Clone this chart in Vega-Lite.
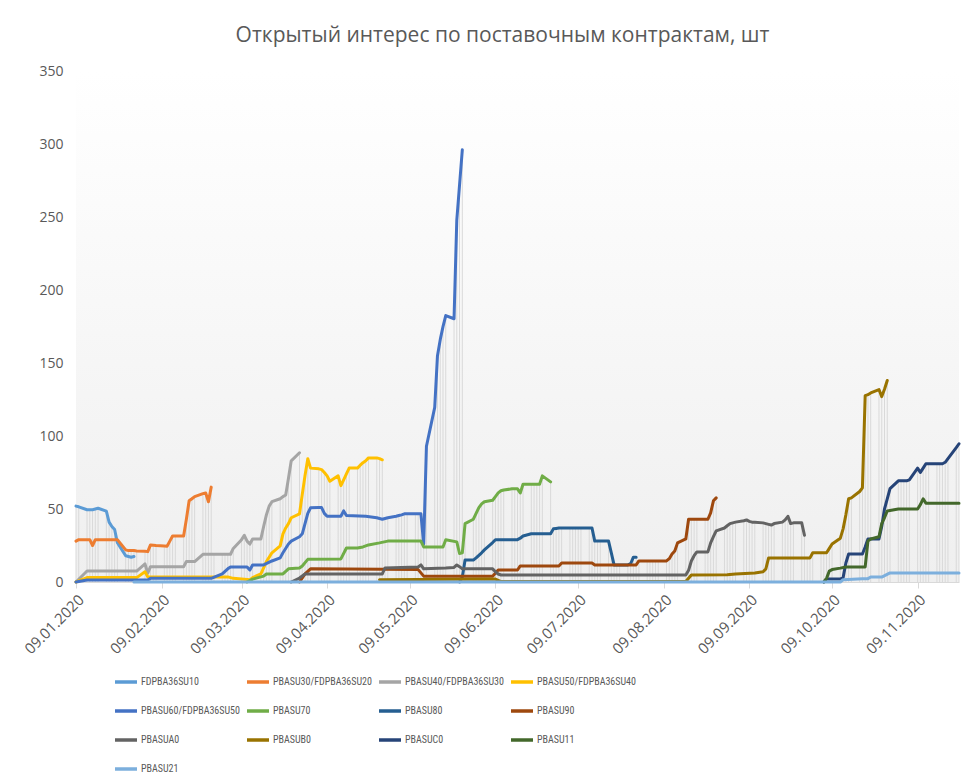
{
  "$schema": "https://vega.github.io/schema/vega-lite/v6.json",
  "width": 883,
  "height": 511,
  "autosize": {"type": "none"},
  "padding": {"left": 76, "top": 71, "right": 21, "bottom": 200},
  "background": "white",
  "config": {"view": {"stroke": null}, "font": "Open Sans"},
  "title": {"text": "Открытый интерес по поставочным контрактам, шт", "fontSize": 21, "fontWeight": "normal", "color": "#595959", "font": "Open Sans", "anchor": "middle", "dx": -15, "offset": 18},
  "datasets": {
    "oi": [
      {"s":"FDPBA36SU10","d":"2020-01-09","v":52},{"s":"FDPBA36SU10","d":"2020-01-10","v":51.5},{"s":"FDPBA36SU10","d":"2020-01-13","v":49.5},{"s":"FDPBA36SU10","d":"2020-01-14","v":49.5},{"s":"FDPBA36SU10","d":"2020-01-15","v":49.5},{"s":"FDPBA36SU10","d":"2020-01-16","v":50},{"s":"FDPBA36SU10","d":"2020-01-17","v":50.5},{"s":"FDPBA36SU10","d":"2020-01-20","v":48.5},{"s":"FDPBA36SU10","d":"2020-01-21","v":41},{"s":"FDPBA36SU10","d":"2020-01-22","v":38},{"s":"FDPBA36SU10","d":"2020-01-23","v":36},{"s":"FDPBA36SU10","d":"2020-01-24","v":27},{"s":"FDPBA36SU10","d":"2020-01-27","v":18},{"s":"FDPBA36SU10","d":"2020-01-28","v":17.5},{"s":"FDPBA36SU10","d":"2020-01-29","v":17},{"s":"FDPBA36SU10","d":"2020-01-30","v":17.5},

      {"s":"PBASU30/FDPBA36SU20","d":"2020-01-09","v":28},{"s":"PBASU30/FDPBA36SU20","d":"2020-01-10","v":29},{"s":"PBASU30/FDPBA36SU20","d":"2020-01-13","v":29},{"s":"PBASU30/FDPBA36SU20","d":"2020-01-14","v":29},{"s":"PBASU30/FDPBA36SU20","d":"2020-01-15","v":25},{"s":"PBASU30/FDPBA36SU20","d":"2020-01-16","v":29},{"s":"PBASU30/FDPBA36SU20","d":"2020-01-17","v":29},{"s":"PBASU30/FDPBA36SU20","d":"2020-01-20","v":29},{"s":"PBASU30/FDPBA36SU20","d":"2020-01-21","v":29},{"s":"PBASU30/FDPBA36SU20","d":"2020-01-22","v":29},{"s":"PBASU30/FDPBA36SU20","d":"2020-01-23","v":29},{"s":"PBASU30/FDPBA36SU20","d":"2020-01-24","v":29},{"s":"PBASU30/FDPBA36SU20","d":"2020-01-27","v":22},{"s":"PBASU30/FDPBA36SU20","d":"2020-01-28","v":21.5},{"s":"PBASU30/FDPBA36SU20","d":"2020-01-29","v":21.5},{"s":"PBASU30/FDPBA36SU20","d":"2020-01-30","v":21.5},{"s":"PBASU30/FDPBA36SU20","d":"2020-01-31","v":21.3},{"s":"PBASU30/FDPBA36SU20","d":"2020-02-03","v":21},{"s":"PBASU30/FDPBA36SU20","d":"2020-02-04","v":20.8},{"s":"PBASU30/FDPBA36SU20","d":"2020-02-05","v":25.4},{"s":"PBASU30/FDPBA36SU20","d":"2020-02-06","v":25.2},{"s":"PBASU30/FDPBA36SU20","d":"2020-02-07","v":25},{"s":"PBASU30/FDPBA36SU20","d":"2020-02-10","v":24.7},{"s":"PBASU30/FDPBA36SU20","d":"2020-02-11","v":24.5},{"s":"PBASU30/FDPBA36SU20","d":"2020-02-12","v":28},{"s":"PBASU30/FDPBA36SU20","d":"2020-02-13","v":31.5},{"s":"PBASU30/FDPBA36SU20","d":"2020-02-14","v":31.5},{"s":"PBASU30/FDPBA36SU20","d":"2020-02-17","v":31.5},{"s":"PBASU30/FDPBA36SU20","d":"2020-02-18","v":43},{"s":"PBASU30/FDPBA36SU20","d":"2020-02-19","v":55.6},{"s":"PBASU30/FDPBA36SU20","d":"2020-02-20","v":57},{"s":"PBASU30/FDPBA36SU20","d":"2020-02-21","v":58.5},{"s":"PBASU30/FDPBA36SU20","d":"2020-02-24","v":60.5},{"s":"PBASU30/FDPBA36SU20","d":"2020-02-25","v":61},{"s":"PBASU30/FDPBA36SU20","d":"2020-02-26","v":55},{"s":"PBASU30/FDPBA36SU20","d":"2020-02-27","v":65},

      {"s":"PBASU40/FDPBA36SU30","d":"2020-01-09","v":0},{"s":"PBASU40/FDPBA36SU30","d":"2020-01-13","v":7.5},{"s":"PBASU40/FDPBA36SU30","d":"2020-01-31","v":7.5},{"s":"PBASU40/FDPBA36SU30","d":"2020-02-03","v":12.4},{"s":"PBASU40/FDPBA36SU30","d":"2020-02-04","v":6},{"s":"PBASU40/FDPBA36SU30","d":"2020-02-05","v":10.5},{"s":"PBASU40/FDPBA36SU30","d":"2020-02-17","v":10.5},{"s":"PBASU40/FDPBA36SU30","d":"2020-02-18","v":14},{"s":"PBASU40/FDPBA36SU30","d":"2020-02-21","v":14},{"s":"PBASU40/FDPBA36SU30","d":"2020-02-24","v":19},{"s":"PBASU40/FDPBA36SU30","d":"2020-02-25","v":19},{"s":"PBASU40/FDPBA36SU30","d":"2020-02-26","v":19},{"s":"PBASU40/FDPBA36SU30","d":"2020-02-27","v":19},{"s":"PBASU40/FDPBA36SU30","d":"2020-02-28","v":19},{"s":"PBASU40/FDPBA36SU30","d":"2020-03-02","v":19},{"s":"PBASU40/FDPBA36SU30","d":"2020-03-03","v":19},{"s":"PBASU40/FDPBA36SU30","d":"2020-03-04","v":19},{"s":"PBASU40/FDPBA36SU30","d":"2020-03-05","v":19},{"s":"PBASU40/FDPBA36SU30","d":"2020-03-06","v":23},{"s":"PBASU40/FDPBA36SU30","d":"2020-03-09","v":29},{"s":"PBASU40/FDPBA36SU30","d":"2020-03-10","v":32},{"s":"PBASU40/FDPBA36SU30","d":"2020-03-11","v":28},{"s":"PBASU40/FDPBA36SU30","d":"2020-03-12","v":26},{"s":"PBASU40/FDPBA36SU30","d":"2020-03-13","v":29.5},{"s":"PBASU40/FDPBA36SU30","d":"2020-03-16","v":29.5},{"s":"PBASU40/FDPBA36SU30","d":"2020-03-17","v":38},{"s":"PBASU40/FDPBA36SU30","d":"2020-03-18","v":46},{"s":"PBASU40/FDPBA36SU30","d":"2020-03-19","v":52},{"s":"PBASU40/FDPBA36SU30","d":"2020-03-20","v":55},{"s":"PBASU40/FDPBA36SU30","d":"2020-03-23","v":57},{"s":"PBASU40/FDPBA36SU30","d":"2020-03-24","v":58.5},{"s":"PBASU40/FDPBA36SU30","d":"2020-03-25","v":59.6},{"s":"PBASU40/FDPBA36SU30","d":"2020-03-26","v":71},{"s":"PBASU40/FDPBA36SU30","d":"2020-03-27","v":83},{"s":"PBASU40/FDPBA36SU30","d":"2020-03-30","v":88.5},

      {"s":"PBASU50/FDPBA36SU40","d":"2020-01-09","v":0},{"s":"PBASU50/FDPBA36SU40","d":"2020-01-13","v":3},{"s":"PBASU50/FDPBA36SU40","d":"2020-01-31","v":3},{"s":"PBASU50/FDPBA36SU40","d":"2020-02-03","v":7},{"s":"PBASU50/FDPBA36SU40","d":"2020-02-04","v":3.5},{"s":"PBASU50/FDPBA36SU40","d":"2020-03-04","v":3.5},{"s":"PBASU50/FDPBA36SU40","d":"2020-03-06","v":2.5},{"s":"PBASU50/FDPBA36SU40","d":"2020-03-09","v":2},{"s":"PBASU50/FDPBA36SU40","d":"2020-03-12","v":1.5},{"s":"PBASU50/FDPBA36SU40","d":"2020-03-13","v":3},{"s":"PBASU50/FDPBA36SU40","d":"2020-03-16","v":5.5},{"s":"PBASU50/FDPBA36SU40","d":"2020-03-17","v":9.6},{"s":"PBASU50/FDPBA36SU40","d":"2020-03-18","v":14},{"s":"PBASU50/FDPBA36SU40","d":"2020-03-19","v":17},{"s":"PBASU50/FDPBA36SU40","d":"2020-03-20","v":20},{"s":"PBASU50/FDPBA36SU40","d":"2020-03-23","v":24.7},{"s":"PBASU50/FDPBA36SU40","d":"2020-03-24","v":33},{"s":"PBASU50/FDPBA36SU40","d":"2020-03-25","v":37},{"s":"PBASU50/FDPBA36SU40","d":"2020-03-26","v":40},{"s":"PBASU50/FDPBA36SU40","d":"2020-03-27","v":44},{"s":"PBASU50/FDPBA36SU40","d":"2020-03-30","v":46.7},{"s":"PBASU50/FDPBA36SU40","d":"2020-03-31","v":60},{"s":"PBASU50/FDPBA36SU40","d":"2020-04-01","v":73},{"s":"PBASU50/FDPBA36SU40","d":"2020-04-02","v":84.4},{"s":"PBASU50/FDPBA36SU40","d":"2020-04-03","v":78},{"s":"PBASU50/FDPBA36SU40","d":"2020-04-06","v":77.5},{"s":"PBASU50/FDPBA36SU40","d":"2020-04-07","v":77},{"s":"PBASU50/FDPBA36SU40","d":"2020-04-08","v":75},{"s":"PBASU50/FDPBA36SU40","d":"2020-04-09","v":72.7},{"s":"PBASU50/FDPBA36SU40","d":"2020-04-10","v":69},{"s":"PBASU50/FDPBA36SU40","d":"2020-04-13","v":72.7},{"s":"PBASU50/FDPBA36SU40","d":"2020-04-14","v":66},{"s":"PBASU50/FDPBA36SU40","d":"2020-04-15","v":70},{"s":"PBASU50/FDPBA36SU40","d":"2020-04-16","v":74},{"s":"PBASU50/FDPBA36SU40","d":"2020-04-17","v":78},{"s":"PBASU50/FDPBA36SU40","d":"2020-04-20","v":78},{"s":"PBASU50/FDPBA36SU40","d":"2020-04-21","v":80},{"s":"PBASU50/FDPBA36SU40","d":"2020-04-22","v":81.7},{"s":"PBASU50/FDPBA36SU40","d":"2020-04-23","v":83},{"s":"PBASU50/FDPBA36SU40","d":"2020-04-24","v":85},{"s":"PBASU50/FDPBA36SU40","d":"2020-04-27","v":85},{"s":"PBASU50/FDPBA36SU40","d":"2020-04-28","v":84.5},{"s":"PBASU50/FDPBA36SU40","d":"2020-04-29","v":83.7},

      {"s":"PBASU60/FDPBA36SU50","d":"2020-01-09","v":0},{"s":"PBASU60/FDPBA36SU50","d":"2020-01-13","v":1.4},{"s":"PBASU60/FDPBA36SU50","d":"2020-02-04","v":1.4},{"s":"PBASU60/FDPBA36SU50","d":"2020-02-05","v":2.5},{"s":"PBASU60/FDPBA36SU50","d":"2020-02-27","v":2.5},{"s":"PBASU60/FDPBA36SU50","d":"2020-03-02","v":5.5},{"s":"PBASU60/FDPBA36SU50","d":"2020-03-04","v":9},{"s":"PBASU60/FDPBA36SU50","d":"2020-03-05","v":10.3},{"s":"PBASU60/FDPBA36SU50","d":"2020-03-11","v":10.3},{"s":"PBASU60/FDPBA36SU50","d":"2020-03-12","v":8.2},{"s":"PBASU60/FDPBA36SU50","d":"2020-03-13","v":11.7},{"s":"PBASU60/FDPBA36SU50","d":"2020-03-17","v":11.7},{"s":"PBASU60/FDPBA36SU50","d":"2020-03-20","v":14.4},{"s":"PBASU60/FDPBA36SU50","d":"2020-03-23","v":16.5},{"s":"PBASU60/FDPBA36SU50","d":"2020-03-24","v":20},{"s":"PBASU60/FDPBA36SU50","d":"2020-03-26","v":26},{"s":"PBASU60/FDPBA36SU50","d":"2020-03-27","v":28},{"s":"PBASU60/FDPBA36SU50","d":"2020-03-30","v":31},{"s":"PBASU60/FDPBA36SU50","d":"2020-03-31","v":33},{"s":"PBASU60/FDPBA36SU50","d":"2020-04-01","v":40},{"s":"PBASU60/FDPBA36SU50","d":"2020-04-02","v":47},{"s":"PBASU60/FDPBA36SU50","d":"2020-04-03","v":50.8},{"s":"PBASU60/FDPBA36SU50","d":"2020-04-06","v":51},{"s":"PBASU60/FDPBA36SU50","d":"2020-04-07","v":51},{"s":"PBASU60/FDPBA36SU50","d":"2020-04-08","v":47},{"s":"PBASU60/FDPBA36SU50","d":"2020-04-09","v":45},{"s":"PBASU60/FDPBA36SU50","d":"2020-04-14","v":45},{"s":"PBASU60/FDPBA36SU50","d":"2020-04-15","v":48.7},{"s":"PBASU60/FDPBA36SU50","d":"2020-04-16","v":45.5},{"s":"PBASU60/FDPBA36SU50","d":"2020-04-23","v":45},{"s":"PBASU60/FDPBA36SU50","d":"2020-04-27","v":44},{"s":"PBASU60/FDPBA36SU50","d":"2020-04-28","v":43.5},{"s":"PBASU60/FDPBA36SU50","d":"2020-04-29","v":43},{"s":"PBASU60/FDPBA36SU50","d":"2020-04-30","v":43.5},{"s":"PBASU60/FDPBA36SU50","d":"2020-05-01","v":44},{"s":"PBASU60/FDPBA36SU50","d":"2020-05-04","v":45},{"s":"PBASU60/FDPBA36SU50","d":"2020-05-05","v":45.5},{"s":"PBASU60/FDPBA36SU50","d":"2020-05-06","v":46},{"s":"PBASU60/FDPBA36SU50","d":"2020-05-07","v":46.7},{"s":"PBASU60/FDPBA36SU50","d":"2020-05-08","v":46.7},{"s":"PBASU60/FDPBA36SU50","d":"2020-05-11","v":46.7},{"s":"PBASU60/FDPBA36SU50","d":"2020-05-12","v":46.7},{"s":"PBASU60/FDPBA36SU50","d":"2020-05-13","v":46.7},{"s":"PBASU60/FDPBA36SU50","d":"2020-05-14","v":26},{"s":"PBASU60/FDPBA36SU50","d":"2020-05-15","v":93},{"s":"PBASU60/FDPBA36SU50","d":"2020-05-18","v":119.6},{"s":"PBASU60/FDPBA36SU50","d":"2020-05-19","v":155},{"s":"PBASU60/FDPBA36SU50","d":"2020-05-20","v":166},{"s":"PBASU60/FDPBA36SU50","d":"2020-05-21","v":174.9},{"s":"PBASU60/FDPBA36SU50","d":"2020-05-22","v":182.5},{"s":"PBASU60/FDPBA36SU50","d":"2020-05-25","v":180.3},{"s":"PBASU60/FDPBA36SU50","d":"2020-05-26","v":247.9},{"s":"PBASU60/FDPBA36SU50","d":"2020-05-27","v":272},{"s":"PBASU60/FDPBA36SU50","d":"2020-05-28","v":296},

      {"s":"PBASU70","d":"2020-03-11","v":0},{"s":"PBASU70","d":"2020-03-13","v":2},{"s":"PBASU70","d":"2020-03-17","v":4},{"s":"PBASU70","d":"2020-03-18","v":5.5},{"s":"PBASU70","d":"2020-03-24","v":5.5},{"s":"PBASU70","d":"2020-03-26","v":9},{"s":"PBASU70","d":"2020-03-30","v":9.6},{"s":"PBASU70","d":"2020-03-31","v":11},{"s":"PBASU70","d":"2020-04-02","v":15.5},{"s":"PBASU70","d":"2020-04-14","v":15.8},{"s":"PBASU70","d":"2020-04-16","v":23.3},{"s":"PBASU70","d":"2020-04-20","v":23.3},{"s":"PBASU70","d":"2020-04-22","v":24},{"s":"PBASU70","d":"2020-04-24","v":25.4},{"s":"PBASU70","d":"2020-04-28","v":26.8},{"s":"PBASU70","d":"2020-05-01","v":28},{"s":"PBASU70","d":"2020-05-13","v":28},{"s":"PBASU70","d":"2020-05-14","v":24},{"s":"PBASU70","d":"2020-05-21","v":24},{"s":"PBASU70","d":"2020-05-22","v":29},{"s":"PBASU70","d":"2020-05-26","v":27.5},{"s":"PBASU70","d":"2020-05-27","v":19.5},{"s":"PBASU70","d":"2020-05-28","v":20},{"s":"PBASU70","d":"2020-05-29","v":40},{"s":"PBASU70","d":"2020-06-01","v":43},{"s":"PBASU70","d":"2020-06-02","v":47},{"s":"PBASU70","d":"2020-06-03","v":51},{"s":"PBASU70","d":"2020-06-04","v":53.5},{"s":"PBASU70","d":"2020-06-05","v":55},{"s":"PBASU70","d":"2020-06-08","v":56},{"s":"PBASU70","d":"2020-06-09","v":58.5},{"s":"PBASU70","d":"2020-06-10","v":61},{"s":"PBASU70","d":"2020-06-11","v":62.5},{"s":"PBASU70","d":"2020-06-12","v":63},{"s":"PBASU70","d":"2020-06-15","v":63.8},{"s":"PBASU70","d":"2020-06-16","v":63.8},{"s":"PBASU70","d":"2020-06-17","v":63.8},{"s":"PBASU70","d":"2020-06-18","v":61},{"s":"PBASU70","d":"2020-06-19","v":67},{"s":"PBASU70","d":"2020-06-22","v":67},{"s":"PBASU70","d":"2020-06-23","v":67},{"s":"PBASU70","d":"2020-06-24","v":67},{"s":"PBASU70","d":"2020-06-25","v":67},{"s":"PBASU70","d":"2020-06-26","v":72.7},{"s":"PBASU70","d":"2020-06-29","v":68.6},

      {"s":"PBASU80","d":"2020-05-27","v":0},{"s":"PBASU80","d":"2020-05-28","v":3.4},{"s":"PBASU80","d":"2020-05-29","v":15},{"s":"PBASU80","d":"2020-06-01","v":15},{"s":"PBASU80","d":"2020-06-02","v":16.5},{"s":"PBASU80","d":"2020-06-04","v":20},{"s":"PBASU80","d":"2020-06-05","v":22},{"s":"PBASU80","d":"2020-06-08","v":27},{"s":"PBASU80","d":"2020-06-09","v":29},{"s":"PBASU80","d":"2020-06-17","v":29},{"s":"PBASU80","d":"2020-06-18","v":30},{"s":"PBASU80","d":"2020-06-19","v":31.5},{"s":"PBASU80","d":"2020-06-22","v":33},{"s":"PBASU80","d":"2020-06-29","v":33},{"s":"PBASU80","d":"2020-06-30","v":36.4},{"s":"PBASU80","d":"2020-07-01","v":36.7},{"s":"PBASU80","d":"2020-07-02","v":37},{"s":"PBASU80","d":"2020-07-03","v":37},{"s":"PBASU80","d":"2020-07-06","v":37},{"s":"PBASU80","d":"2020-07-07","v":37},{"s":"PBASU80","d":"2020-07-08","v":37},{"s":"PBASU80","d":"2020-07-09","v":37},{"s":"PBASU80","d":"2020-07-10","v":37},{"s":"PBASU80","d":"2020-07-13","v":37},{"s":"PBASU80","d":"2020-07-14","v":37},{"s":"PBASU80","d":"2020-07-15","v":28},{"s":"PBASU80","d":"2020-07-16","v":28},{"s":"PBASU80","d":"2020-07-17","v":28},{"s":"PBASU80","d":"2020-07-20","v":28},{"s":"PBASU80","d":"2020-07-21","v":20},{"s":"PBASU80","d":"2020-07-22","v":11.7},{"s":"PBASU80","d":"2020-07-23","v":11.7},{"s":"PBASU80","d":"2020-07-24","v":11.7},{"s":"PBASU80","d":"2020-07-27","v":11.7},{"s":"PBASU80","d":"2020-07-28","v":12.5},{"s":"PBASU80","d":"2020-07-29","v":17},{"s":"PBASU80","d":"2020-07-30","v":17},

      {"s":"PBASU90","d":"2020-03-30","v":0},{"s":"PBASU90","d":"2020-04-01","v":5.5},{"s":"PBASU90","d":"2020-04-03","v":9},{"s":"PBASU90","d":"2020-05-12","v":8.5},{"s":"PBASU90","d":"2020-05-14","v":4},{"s":"PBASU90","d":"2020-06-08","v":4},{"s":"PBASU90","d":"2020-06-10","v":8.2},{"s":"PBASU90","d":"2020-06-17","v":8.2},{"s":"PBASU90","d":"2020-06-18","v":11},{"s":"PBASU90","d":"2020-07-02","v":11},{"s":"PBASU90","d":"2020-07-03","v":13},{"s":"PBASU90","d":"2020-07-14","v":13},{"s":"PBASU90","d":"2020-07-15","v":11.7},{"s":"PBASU90","d":"2020-07-30","v":11.7},{"s":"PBASU90","d":"2020-07-31","v":14.4},{"s":"PBASU90","d":"2020-08-03","v":14.4},{"s":"PBASU90","d":"2020-08-04","v":14.4},{"s":"PBASU90","d":"2020-08-05","v":14.4},{"s":"PBASU90","d":"2020-08-06","v":14.4},{"s":"PBASU90","d":"2020-08-07","v":14.4},{"s":"PBASU90","d":"2020-08-10","v":14.4},{"s":"PBASU90","d":"2020-08-11","v":16},{"s":"PBASU90","d":"2020-08-12","v":19.2},{"s":"PBASU90","d":"2020-08-13","v":21.3},{"s":"PBASU90","d":"2020-08-14","v":26.8},{"s":"PBASU90","d":"2020-08-17","v":29.5},{"s":"PBASU90","d":"2020-08-18","v":43},{"s":"PBASU90","d":"2020-08-19","v":43},{"s":"PBASU90","d":"2020-08-20","v":43},{"s":"PBASU90","d":"2020-08-21","v":43},{"s":"PBASU90","d":"2020-08-24","v":43},{"s":"PBASU90","d":"2020-08-25","v":43},{"s":"PBASU90","d":"2020-08-26","v":47.4},{"s":"PBASU90","d":"2020-08-27","v":55.6},{"s":"PBASU90","d":"2020-08-28","v":57.6},

      {"s":"PBASUA0","d":"2020-03-27","v":0},{"s":"PBASUA0","d":"2020-03-30","v":2.7},{"s":"PBASUA0","d":"2020-04-01","v":5.5},{"s":"PBASUA0","d":"2020-04-29","v":5.5},{"s":"PBASUA0","d":"2020-04-30","v":9.6},{"s":"PBASUA0","d":"2020-05-12","v":10.3},{"s":"PBASUA0","d":"2020-05-13","v":11.7},{"s":"PBASUA0","d":"2020-05-14","v":9},{"s":"PBASUA0","d":"2020-05-22","v":9.6},{"s":"PBASUA0","d":"2020-05-25","v":10},{"s":"PBASUA0","d":"2020-05-26","v":11.7},{"s":"PBASUA0","d":"2020-05-27","v":10.5},{"s":"PBASUA0","d":"2020-05-28","v":9},{"s":"PBASUA0","d":"2020-06-08","v":9},{"s":"PBASUA0","d":"2020-06-09","v":7},{"s":"PBASUA0","d":"2020-06-10","v":5.5},{"s":"PBASUA0","d":"2020-06-11","v":4.8},{"s":"PBASUA0","d":"2020-08-17","v":4.8},{"s":"PBASUA0","d":"2020-08-18","v":8},{"s":"PBASUA0","d":"2020-08-19","v":14.4},{"s":"PBASUA0","d":"2020-08-20","v":18},{"s":"PBASUA0","d":"2020-08-21","v":20.6},{"s":"PBASUA0","d":"2020-08-24","v":20.6},{"s":"PBASUA0","d":"2020-08-25","v":20.6},{"s":"PBASUA0","d":"2020-08-26","v":26.8},{"s":"PBASUA0","d":"2020-08-27","v":31},{"s":"PBASUA0","d":"2020-08-28","v":35},{"s":"PBASUA0","d":"2020-08-31","v":37},{"s":"PBASUA0","d":"2020-09-01","v":38.5},{"s":"PBASUA0","d":"2020-09-02","v":40},{"s":"PBASUA0","d":"2020-09-03","v":40.5},{"s":"PBASUA0","d":"2020-09-04","v":41},{"s":"PBASUA0","d":"2020-09-07","v":42},{"s":"PBASUA0","d":"2020-09-08","v":42.5},{"s":"PBASUA0","d":"2020-09-09","v":41.5},{"s":"PBASUA0","d":"2020-09-10","v":41},{"s":"PBASUA0","d":"2020-09-11","v":41},{"s":"PBASUA0","d":"2020-09-14","v":40.5},{"s":"PBASUA0","d":"2020-09-15","v":40},{"s":"PBASUA0","d":"2020-09-16","v":39.5},{"s":"PBASUA0","d":"2020-09-17","v":39},{"s":"PBASUA0","d":"2020-09-18","v":40},{"s":"PBASUA0","d":"2020-09-21","v":41},{"s":"PBASUA0","d":"2020-09-22","v":42.5},{"s":"PBASUA0","d":"2020-09-23","v":45},{"s":"PBASUA0","d":"2020-09-24","v":40},{"s":"PBASUA0","d":"2020-09-25","v":40.5},{"s":"PBASUA0","d":"2020-09-28","v":40.5},{"s":"PBASUA0","d":"2020-09-29","v":32},

      {"s":"PBASUB0","d":"2020-04-28","v":1.5},{"s":"PBASUB0","d":"2020-06-09","v":2},{"s":"PBASUB0","d":"2020-06-11","v":0.3},{"s":"PBASUB0","d":"2020-08-17","v":0.3},{"s":"PBASUB0","d":"2020-08-19","v":4.8},{"s":"PBASUB0","d":"2020-09-01","v":5},{"s":"PBASUB0","d":"2020-09-04","v":5.5},{"s":"PBASUB0","d":"2020-09-11","v":6.2},{"s":"PBASUB0","d":"2020-09-14","v":7},{"s":"PBASUB0","d":"2020-09-15","v":9},{"s":"PBASUB0","d":"2020-09-16","v":16.5},{"s":"PBASUB0","d":"2020-09-30","v":16.5},{"s":"PBASUB0","d":"2020-10-01","v":16.5},{"s":"PBASUB0","d":"2020-10-02","v":20},{"s":"PBASUB0","d":"2020-10-05","v":20},{"s":"PBASUB0","d":"2020-10-06","v":20},{"s":"PBASUB0","d":"2020-10-07","v":20},{"s":"PBASUB0","d":"2020-10-08","v":23},{"s":"PBASUB0","d":"2020-10-09","v":26},{"s":"PBASUB0","d":"2020-10-12","v":30},{"s":"PBASUB0","d":"2020-10-13","v":36.4},{"s":"PBASUB0","d":"2020-10-14","v":46},{"s":"PBASUB0","d":"2020-10-15","v":57},{"s":"PBASUB0","d":"2020-10-16","v":57.6},{"s":"PBASUB0","d":"2020-10-19","v":62},{"s":"PBASUB0","d":"2020-10-20","v":64.5},{"s":"PBASUB0","d":"2020-10-21","v":127.7},{"s":"PBASUB0","d":"2020-10-22","v":128.3},{"s":"PBASUB0","d":"2020-10-23","v":129.5},{"s":"PBASUB0","d":"2020-10-26","v":131.8},{"s":"PBASUB0","d":"2020-10-27","v":127},{"s":"PBASUB0","d":"2020-10-28","v":132},{"s":"PBASUB0","d":"2020-10-29","v":138},

      {"s":"PBASUC0","d":"2020-10-06","v":0},{"s":"PBASUC0","d":"2020-10-07","v":2},{"s":"PBASUC0","d":"2020-10-12","v":2},{"s":"PBASUC0","d":"2020-10-13","v":3},{"s":"PBASUC0","d":"2020-10-14","v":13},{"s":"PBASUC0","d":"2020-10-15","v":19.2},{"s":"PBASUC0","d":"2020-10-20","v":19.2},{"s":"PBASUC0","d":"2020-10-21","v":24},{"s":"PBASUC0","d":"2020-10-22","v":29.5},{"s":"PBASUC0","d":"2020-10-26","v":29.5},{"s":"PBASUC0","d":"2020-10-27","v":38},{"s":"PBASUC0","d":"2020-10-28","v":50},{"s":"PBASUC0","d":"2020-10-29","v":57},{"s":"PBASUC0","d":"2020-10-30","v":64},{"s":"PBASUC0","d":"2020-11-02","v":69.3},{"s":"PBASUC0","d":"2020-11-03","v":69.3},{"s":"PBASUC0","d":"2020-11-04","v":69.3},{"s":"PBASUC0","d":"2020-11-05","v":69.3},{"s":"PBASUC0","d":"2020-11-06","v":70},{"s":"PBASUC0","d":"2020-11-09","v":78},{"s":"PBASUC0","d":"2020-11-10","v":75},{"s":"PBASUC0","d":"2020-11-11","v":78},{"s":"PBASUC0","d":"2020-11-12","v":81},{"s":"PBASUC0","d":"2020-11-13","v":81},{"s":"PBASUC0","d":"2020-11-16","v":81},{"s":"PBASUC0","d":"2020-11-17","v":81},{"s":"PBASUC0","d":"2020-11-18","v":81},{"s":"PBASUC0","d":"2020-11-19","v":82},{"s":"PBASUC0","d":"2020-11-20","v":84.5},{"s":"PBASUC0","d":"2020-11-23","v":92},{"s":"PBASUC0","d":"2020-11-24","v":94.7},

      {"s":"PBASU11","d":"2020-10-06","v":0},{"s":"PBASU11","d":"2020-10-07","v":2.5},{"s":"PBASU11","d":"2020-10-08","v":7.5},{"s":"PBASU11","d":"2020-10-09","v":8.5},{"s":"PBASU11","d":"2020-10-12","v":9.5},{"s":"PBASU11","d":"2020-10-14","v":10.3},{"s":"PBASU11","d":"2020-10-21","v":10.3},{"s":"PBASU11","d":"2020-10-22","v":28},{"s":"PBASU11","d":"2020-10-23","v":29.5},{"s":"PBASU11","d":"2020-10-26","v":31},{"s":"PBASU11","d":"2020-10-27","v":40},{"s":"PBASU11","d":"2020-10-28","v":44},{"s":"PBASU11","d":"2020-10-29","v":48.7},{"s":"PBASU11","d":"2020-10-30","v":49},{"s":"PBASU11","d":"2020-11-02","v":50},{"s":"PBASU11","d":"2020-11-09","v":50},{"s":"PBASU11","d":"2020-11-10","v":53},{"s":"PBASU11","d":"2020-11-11","v":57},{"s":"PBASU11","d":"2020-11-12","v":54},{"s":"PBASU11","d":"2020-11-24","v":54},

      {"s":"PBASU21","d":"2020-01-30","v":0},{"s":"PBASU21","d":"2020-10-12","v":0},{"s":"PBASU21","d":"2020-10-13","v":1.6},{"s":"PBASU21","d":"2020-10-20","v":2.3},{"s":"PBASU21","d":"2020-10-22","v":2.3},{"s":"PBASU21","d":"2020-10-23","v":3.4},{"s":"PBASU21","d":"2020-10-27","v":3.4},{"s":"PBASU21","d":"2020-10-30","v":6.2},{"s":"PBASU21","d":"2020-11-24","v":6.2}
    ]
  },
  "data": {"name": "oi"},
  "layer": [
    {
      "data": {"values": [{"k": 1}]},
      "mark": {"type": "rect", "color": {"gradient": "linear", "x1": 0, "y1": 0, "x2": 0, "y2": 1, "stops": [{"offset": 0, "color": "#ffffff"}, {"offset": 0.45, "color": "#f8f8f8"}, {"offset": 1, "color": "#efefef"}]}},
      "encoding": {
        "x": {"datum": {"year": 2020, "month": 1, "date": 9, "utc": true}, "type": "temporal"},
        "x2": {"datum": {"year": 2020, "month": 11, "date": 24, "utc": true}},
        "y": {"datum": 0, "type": "quantitative"},
        "y2": {"datum": 350}
      }
    },
    {
      "mark": {"type": "rule", "color": "#d9d9d9", "strokeWidth": 1},
      "encoding": {
        "x": {"field": "d", "type": "temporal"},
        "y": {"aggregate": "max", "field": "v", "type": "quantitative"},
        "y2": {"datum": 0}
      }
    },
    {
      "mark": {"type": "line", "strokeWidth": 3, "strokeCap": "round", "strokeJoin": "round"},
      "encoding": {
        "x": {"field": "d", "type": "temporal",
          "scale": {"type": "utc", "domain": [{"year": 2020, "month": 1, "date": 9, "utc": true}, {"year": 2020, "month": 11, "date": 24, "utc": true}]},
          "axis": {"title": null, "grid": false, "format": "%d.%m.%Y",
            "values": [{"year":2020,"month":1,"date":9,"utc":true},{"year":2020,"month":2,"date":9,"utc":true},{"year":2020,"month":3,"date":9,"utc":true},{"year":2020,"month":4,"date":9,"utc":true},{"year":2020,"month":5,"date":9,"utc":true},{"year":2020,"month":6,"date":9,"utc":true},{"year":2020,"month":7,"date":9,"utc":true},{"year":2020,"month":8,"date":9,"utc":true},{"year":2020,"month":9,"date":9,"utc":true},{"year":2020,"month":10,"date":9,"utc":true},{"year":2020,"month":11,"date":9,"utc":true}],
            "labelAngle": -45, "labelFontSize": 15, "labelColor": "#595959", "labelFont": "Open Sans",
            "domainColor": "#d9d9d9", "tickColor": "#d9d9d9", "tickSize": 6, "labelPadding": 4}},
        "y": {"field": "v", "type": "quantitative",
          "scale": {"domain": [0, 350], "nice": false},
          "axis": {"title": null, "grid": false, "domain": false, "ticks": false, "values": [0, 50, 100, 150, 200, 250, 300, 350], "labelFontSize": 14, "labelColor": "#595959", "labelFont": "Open Sans", "labelPadding": 13}},
        "color": {"field": "s", "type": "nominal", "sort": null,
          "scale": {"domain": ["FDPBA36SU10", "PBASU30/FDPBA36SU20", "PBASU40/FDPBA36SU30", "PBASU50/FDPBA36SU40", "PBASU60/FDPBA36SU50", "PBASU70", "PBASU80", "PBASU90", "PBASUA0", "PBASUB0", "PBASUC0", "PBASU11", "PBASU21"],
            "range": ["#5B9BD5", "#ED7D31", "#A5A5A5", "#FFC000", "#4472C4", "#70AD47", "#255E91", "#9E480E", "#636363", "#997300", "#264478", "#43682B", "#7CAFDD"]},
          "legend": {"title": null, "orient": "none", "legendX": 37, "legendY": 598, "direction": "horizontal", "columns": 4, "gridAlign": "all", "columnPadding": 0, "rowPadding": 9, "padding": 0,
            "symbolType": "stroke", "symbolSize": 484, "symbolStrokeWidth": 3.5, "labelOffset": 2,
            "labelFont": "Roboto Condensed, Roboto", "labelFontSize": 10, "labelColor": "#595959", "labelLimit": 200}}
      }
    }
  ]
}
